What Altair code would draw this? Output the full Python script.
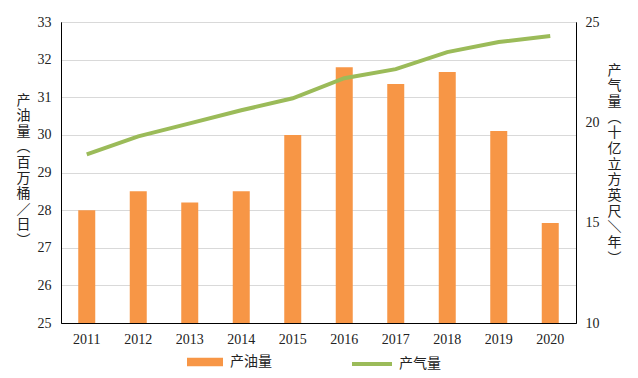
import altair as alt
import pandas as pd

years = ["2011", "2012", "2013", "2014", "2015", "2016", "2017", "2018", "2019", "2020"]
oil = [28.0, 28.5, 28.2, 28.5, 30.0, 31.8, 31.35, 31.67, 30.1, 27.66]
gas = [18.4, 19.3, 19.95, 20.6, 21.2, 22.2, 22.65, 23.5, 24.0, 24.3]

oil_name = "产油量"
gas_name = "产气量"
left_title = ["产", "油", "量", "︵", "百", "万", "桶", "／", "日", "︶"]
right_title = ["产", "气", "量", "︵", "十", "亿", "立", "方", "英", "尺", "＼", "年", "︶"]

df = pd.DataFrame({"year": years, "oil": oil, "gas": gas})
df["s_oil"] = oil_name
df["s_gas"] = gas_name

SERIF = "Liberation Serif"
CJK = "Noto Sans CJK SC"

x_enc = alt.X(
    "year:O",
    sort=years,
    scale=alt.Scale(paddingInner=0, paddingOuter=0),
    axis=alt.Axis(
        title=None, labelAngle=0, labelFont=SERIF, labelFontSize=14,
        labelColor="#222", labelPadding=9, ticks=False,
        domainColor="#000", domainWidth=1, grid=False,
    ),
)

bars = alt.Chart(df).mark_bar(size=17, clip=True).encode(
    x=x_enc,
    y=alt.Y(
        "oil:Q",
        scale=alt.Scale(domain=[25, 33], nice=False, zero=False),
        axis=alt.Axis(
            values=[25, 26, 27, 28, 29, 30, 31, 32, 33],
            title=left_title, titleAngle=0, titleX=-38, titleY=78,
            titleAlign="center", titleBaseline="middle", titleFont=CJK,
            titleFontSize=14, titleFontWeight="normal", titleLineHeight=15.6,
            titleColor="#222",
            labelFont=SERIF, labelFontSize=14, labelColor="#222",
            labelPadding=10, ticks=False, domainColor="#000",
            grid=True, gridColor="#D9D9D9", gridWidth=1,
        ),
    ),
    y2=alt.datum(25),
    fill=alt.Fill(
        "s_oil:N",
        scale=alt.Scale(domain=[oil_name], range=["#F79646"]),
        legend=alt.Legend(
            title=None, orient="none", legendX=126, legendY=322,
            symbolType="M-1,-0.23L1,-0.23L1,0.23L-1,0.23Z", symbolSize=1296,
            symbolStrokeWidth=0, labelFont=CJK, labelFontSize=14,
            labelColor="#222", labelOffset=7, padding=0,
        ),
    ),
)

line = alt.Chart(df).mark_line(strokeWidth=4).encode(
    x=x_enc,
    y=alt.Y(
        "gas:Q",
        scale=alt.Scale(domain=[10, 25], nice=False, zero=False),
        axis=alt.Axis(
            orient="right", values=[10, 15, 20, 25],
            title=right_title, titleAngle=0, titleX=38, titleY=48,
            titleAlign="center", titleBaseline="middle", titleFont=CJK,
            titleFontSize=14, titleFontWeight="normal", titleLineHeight=15.7,
            titleColor="#222",
            labelFont=SERIF, labelFontSize=14, labelColor="#222",
            labelPadding=9, ticks=False, domainColor="#000", grid=False,
        ),
    ),
    stroke=alt.Stroke(
        "s_gas:N",
        scale=alt.Scale(domain=[gas_name], range=["#9BBB59"]),
        legend=alt.Legend(
            title=None, orient="none", legendX=289, legendY=320,
            symbolType="stroke", symbolSize=1600, symbolStrokeWidth=4,
            labelFont=CJK, labelFontSize=14, labelColor="#222",
            labelOffset=5, padding=0,
        ),
    ),
)

chart = (
    alt.layer(bars, line)
    .resolve_scale(y="independent", fill="independent", stroke="independent")
    .properties(
        width=515, height=301,
        autosize=alt.AutoSizeParams(type="none"),
        padding={"left": 53, "top": 14, "right": 54, "bottom": 47},
        background="white",
    )
    .configure_view(stroke="#000", strokeWidth=1)
)

chart.save("out.html", embed_options={"renderer": "svg", "actions": False})
